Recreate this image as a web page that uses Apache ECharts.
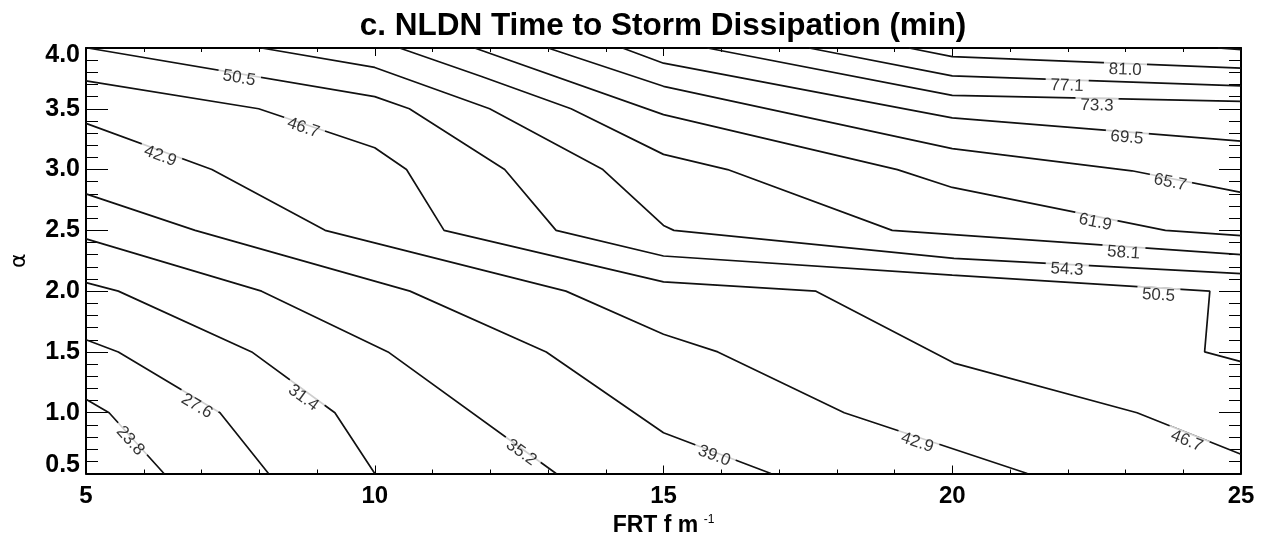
<!DOCTYPE html>
<html>
<head>
<meta charset="utf-8">
<title>NLDN Time to Storm Dissipation</title>
<script src="https://cdn.jsdelivr.net/npm/echarts@6.0.0/dist/echarts.min.js"></script>
<style>
  html, body { margin: 0; padding: 0; background: #fff; }
  #chart { width: 1270px; height: 542px; }
</style>
</head>
<body>
<div id="chart"></div>
<script>
// axes: FRT (x) and alpha (y)
const xRange = [5, 25];
const yRange = [0.5, 4.0];

// contour polylines, points are [FRT, alpha]
const c238 = [[5.0, 1.11], [5.40, 1.0], [6.35, 0.5]];
const c276 = [[5.0, 1.60], [5.56, 1.5], [7.32, 1.0], [8.16, 0.5]];
const c314 = [[5.0, 2.07], [5.56, 2.0], [7.87, 1.5], [9.31, 1.0], [10.0, 0.5]];
const c352 = [[5.0, 2.43], [8.04, 2.0], [10.23, 1.5], [13.14, 0.5]];
const c390 = [[5.0, 2.80], [6.89, 2.5], [10.61, 2.0], [12.97, 1.5], [15.0, 0.835], [16.86, 0.5]];
const c429 = [[5.0, 3.38], [7.18, 3.0], [9.14, 2.5], [13.31, 2.0], [15.0, 1.645], [15.94, 1.5], [18.13, 1.0], [21.30, 0.5]];
const c467 = [[5.0, 3.73], [7.99, 3.5], [10.0, 3.18], [10.55, 3.0], [11.2, 2.5], [15.0, 2.076], [17.64, 2.0], [20.03, 1.408], [23.2, 1.0], [25.0, 0.658]];
const c505 = [[5.03, 4.0], [10.0, 3.60], [10.6, 3.5], [12.25, 3.0], [13.14, 2.5], [15.0, 2.289], [20.0, 2.132], [24.46, 2.0], [24.37, 1.5], [25.0, 1.42]];
const c543 = [[8.04, 4.0], [10.0, 3.84], [11.99, 3.5], [13.95, 3.0], [15.0, 2.54], [15.18, 2.5], [20.03, 2.27], [25.0, 2.144]];
const c581 = [[10.43, 4.0], [11.85, 3.765], [13.40, 3.5], [15.0, 3.125], [16.11, 3.0], [18.96, 2.5], [25.0, 2.30]];
const c619 = [[11.73, 4.0], [15.0, 3.452], [19.05, 3.0], [20.0, 2.853], [23.69, 2.5], [25.0, 2.457]];
const c657 = [[13.0, 4.0], [15.0, 3.685], [20.0, 3.172], [23.11, 2.99], [25.0, 2.812]];
const c695 = [[14.29, 4.0], [15.0, 3.875], [20.0, 3.425], [25.0, 3.234]];
const c733 = [[15.76, 4.0], [20.0, 3.61], [25.0, 3.561]];
const c771 = [[17.52, 4.0], [20.0, 3.771], [25.0, 3.689]];
const c810 = [[19.25, 4.0], [20.0, 3.929], [25.0, 3.834]];
const c848 = [[24.6, 4.0], [25.0, 3.986]];

const levels = ['23.8', '27.6', '31.4', '35.2', '39.0', '42.9', '46.7', '50.5', '54.3', '58.1', '61.9', '65.7', '69.5', '73.3', '77.1', '81.0', '84.8'];
const contourLines = [c238, c276, c314, c352, c390, c429, c467, c505, c543, c581, c619, c657, c695, c733, c771, c810, c848];

// contour labels: level text and where it sits (FRT, alpha)
const labelLevels = ['23.8', '27.6', '31.4', '35.2', '39.0', '42.9', '46.7', '50.5', '54.3', '58.1', '61.9', '65.7', '69.5', '73.3', '77.1', '81.0', '42.9', '46.7', '50.5'];
const labelX = [5.766, 6.919, 8.763, 12.537, 15.878, 19.394, 24.061, 23.571, 21.987, 22.966, 22.476, 23.773, 23.024, 22.505, 21.987, 22.995, 6.284, 8.763, 7.65];
const labelY = [0.768, 1.054, 1.122, 0.672, 0.645, 0.754, 0.768, 1.966, 2.179, 2.315, 2.567, 2.894, 3.262, 3.526, 3.689, 3.82, 3.111, 3.343, 3.752];

const chart = echarts.init(document.getElementById('chart'));

const FONT = 'Liberation Sans, Arial, Helvetica, sans-serif';

const lineSeries = contourLines.map((pts, i) => ({
  name: levels[i],
  type: 'line',
  data: pts,
  symbol: 'none',
  silent: true,
  clip: true,
  lineStyle: { color: '#111', width: 1.7 },
  z: 2
}));

// frame axis helper: ticks pointing inwards, optional labels
function frameAxis(pos, range, interval, major, minor, labels) {
  return {
    type: 'value',
    position: pos,
    min: range[0],
    max: range[1],
    interval: interval,
    splitLine: { show: false },
    axisLine: { show: true, onZero: false, lineStyle: { color: '#000', width: 2 } },
    axisTick: { show: true, inside: true, length: major, lineStyle: { color: '#000', width: 1 } },
    minorTick: { show: true, splitNumber: 5, length: minor, lineStyle: { color: '#000', width: 1 } },
    axisLabel: labels || { show: false }
  };
}

const option = {
  animation: false,
  backgroundColor: '#fff',
  title: {
    text: 'c. NLDN Time to Storm Dissipation (min)',
    left: 663,
    textAlign: 'center',
    top: 10,
    padding: 0,
    textStyle: { fontFamily: FONT, fontSize: 31.5, fontWeight: 'bold', color: '#000' }
  },
  grid: { left: 84, right: 29, top: 48, bottom: 66, containLabel: false },
  xAxis: [
    Object.assign(frameAxis('bottom', xRange, 5, 8, 4, {
      show: true, margin: 11,
      fontFamily: FONT, fontSize: 24, fontWeight: 'bold', color: '#000'
    }), {
      name: '{a|FRT f m} {s|-1}',
      nameLocation: 'middle',
      nameGap: 40,
      nameTextStyle: {
        rich: {
          a: { fontFamily: FONT, fontSize: 23, fontWeight: 'bold', color: '#000', lineHeight: 24 },
          s: { fontFamily: FONT, fontSize: 12, color: '#000', verticalAlign: 'top', lineHeight: 12, padding: [0, 0, 0, 2] }
        }
      }
    }),
    frameAxis('top', xRange, 5, 8, 4)
  ],
  yAxis: [
    Object.assign(frameAxis('left', yRange, 0.5, 22, 12, {
      show: true, margin: 6,
      fontFamily: FONT, fontSize: 25, fontWeight: 'bold', color: '#000',
      formatter: v => v === yRange[0] ? '{lo|' + v.toFixed(1) + '}' : (v === yRange[1] ? '{hi|' + v.toFixed(1) + '}' : v.toFixed(1)),
      rich: {
        lo: { fontFamily: FONT, fontSize: 25, fontWeight: 'bold', color: '#000', padding: [0, 0, 16, 0] },
        hi: { fontFamily: FONT, fontSize: 25, fontWeight: 'bold', color: '#000', padding: [14, 0, 0, 0] }
      }
    }), {
      name: 'α',
      nameLocation: 'middle',
      nameGap: 56,
      nameTextStyle: { fontFamily: 'DejaVu Sans, sans-serif', fontSize: 22, color: '#000' }
    }),
    frameAxis('right', yRange, 0.5, 22, 12)
  ],
  series: lineSeries
};

chart.setOption(option);

// point at arc length s along a pixel polyline
function pointAt(pts, cum, s) {
  s = Math.max(0, Math.min(cum[cum.length - 1], s));
  for (let i = 1; i < pts.length; i++) {
    if (s <= cum[i] || i === pts.length - 1) {
      const seg = cum[i] - cum[i - 1] || 1;
      const t = (s - cum[i - 1]) / seg;
      return [pts[i - 1][0] + t * (pts[i][0] - pts[i - 1][0]), pts[i - 1][1] + t * (pts[i][1] - pts[i - 1][1])];
    }
  }
  return pts[pts.length - 1];
}

// label angle follows the contour near the label
function labelAngle(line, px, py) {
  const pts = line.map(p => chart.convertToPixel({ seriesIndex: 0 }, p));
  const cum = [0];
  for (let i = 1; i < pts.length; i++) {
    cum[i] = cum[i - 1] + Math.hypot(pts[i][0] - pts[i - 1][0], pts[i][1] - pts[i - 1][1]);
  }
  let best = Infinity, bestS = 0;
  for (let i = 1; i < pts.length; i++) {
    const ax = pts[i - 1][0], ay = pts[i - 1][1], bx = pts[i][0], by = pts[i][1];
    const len2 = (bx - ax) * (bx - ax) + (by - ay) * (by - ay);
    let t = len2 ? ((px - ax) * (bx - ax) + (py - ay) * (by - ay)) / len2 : 0;
    t = Math.max(0, Math.min(1, t));
    const d = Math.hypot(ax + t * (bx - ax) - px, ay + t * (by - ay) - py);
    if (d < best) { best = d; bestS = cum[i - 1] + t * (cum[i] - cum[i - 1]); }
  }
  const a = pointAt(pts, cum, bestS - 18);
  const b = pointAt(pts, cum, bestS + 18);
  return -Math.atan2(b[1] - a[1], b[0] - a[0]) * 180 / Math.PI;
}

const labelData = labelLevels.map((lev, i) => {
  const line = contourLines[levels.indexOf(lev)];
  const p = chart.convertToPixel({ seriesIndex: 0 }, [labelX[i], labelY[i]]);
  return {
    name: lev,
    value: [labelX[i], labelY[i]],
    label: { rotate: labelAngle(line, p[0], p[1]) }
  };
});

chart.setOption({
  series: lineSeries.concat([{
    type: 'scatter',
    name: 'labels',
    data: labelData,
    symbolSize: 0,
    silent: true,
    z: 5,
    label: {
      show: true,
      position: 'inside',
      formatter: '{b}',
      fontFamily: FONT,
      fontSize: 17,
      color: '#000',
      backgroundColor: '#fff',
      padding: [0, 5]
    }
  }])
});
</script>
</body>
</html>
